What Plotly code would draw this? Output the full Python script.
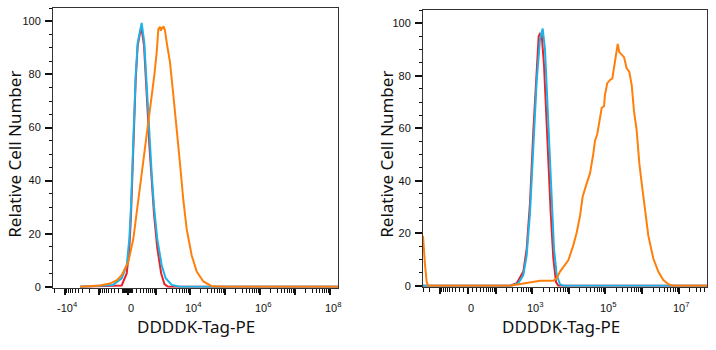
import numpy as np
import plotly.graph_objects as go

# ---------------- data (fluorescence intensity, relative cell number) ----------------
# Left panel
L_red_x = [-3600, -125, -17, 38, 74, 125, 181, 231, 330, 420, 490, 560, 630, 750, 880, 1100, 1450, 1800, 2300, 1.65e8]
L_red_y = [0, 0.5, 5, 14, 27, 52, 78, 91, 98, 91, 80, 66, 54, 41, 28, 15, 5, 1, 0, 0]

L_blue_x = [-3600, -353, -125, -17, 38, 74, 125, 181, 231, 344, 430, 493, 562, 634, 753, 886, 1113, 1500, 1960, 2920, 5000, 1.65e8]
L_blue_y = [0, 0.7, 3.2, 8.1, 18, 30.3, 55, 79.7, 92, 99.4, 92, 79.7, 67.3, 55, 42.7, 30.3, 18, 8.1, 3.2, 0.7, 0, 0]

L_orange_x = [-3633, -951, -455, -294, -239, -125, 17, 125, 206, 294, 455, 587, 753, 905, 1068, 1193, 1340, 1420,
              1500, 1584, 1700, 1871, 2100, 2610, 3250, 4070, 5055, 6280, 7850, 10910, 15170, 23450, 40750, 100000, 1.65e8]
L_orange_y = [0, 0.5, 1.2, 2, 2.5, 4.4, 9.4, 18, 27.9, 37.7, 51.4, 61.2, 72.3, 79.7, 88.3, 97, 98, 96.5,
              97.8, 97.2, 98.2, 96.5, 92, 84.6, 72.3, 60, 46.4, 32.8, 21.7, 11.8, 5.7, 2, 0.2, 0, 0]

# Right panel
R_red_x = [-302, 250, 381, 579, 714, 880, 1085, 1337, 1517, 1649, 1834, 2120, 2401, 2776, 3224, 3803, 4500, 5202, 5.85e7]
R_red_y = [0, 0, 1, 5.4, 14.1, 31.6, 59, 84, 95, 96, 95.5, 84, 65.3, 46.6, 27.8, 10.4, 1.4, 0, 0]

R_blue_x = [-302, 278, 422, 579, 714, 880, 1085, 1337, 1649, 1951, 2255, 2608, 2959, 3438, 3965, 4691, 5785, 7117, 5.85e7]
R_blue_y = [0, 0, 1, 4.1, 11.6, 27.8, 52.8, 77.8, 94, 98, 90, 71.5, 52.8, 31.6, 14.2, 4.1, 0.6, 0, 0]

R_orange_x = [-302, -290, -266, -239, -220, 250, 469, 880, 1649, 3803, 4691, 5785, 7911, 9734, 13313, 16492,
              20290, 24010, 30860, 37960, 46700, 51910, 60010, 71150, 79130, 91400, 97340, 112500, 133100,
              153900, 171100, 190600, 215800, 238900, 277600, 320800, 379600, 447000, 519100, 600100,
              711700, 838100, 973400, 1197500, 1473000, 2014000, 2756000, 3778000, 5168000, 7069000, 5.85e7]
R_orange_y = [19, 14, 8, 1.4, 0, 0, 0.6, 1.4, 1.9, 1.9, 2.9, 5.4, 7.9, 9.7, 15.4, 20.3,
              26.6, 34, 39, 42.8, 50.3, 55.3, 57.8, 64, 67.8, 68.4, 72.8, 77.2, 78.4,
              78.9, 82.8, 87.8, 92.1, 89, 87.8, 87.1, 82.8, 81.5, 76.5, 66.5,
              59, 46.6, 39, 29.1, 19.1, 10.4, 5.4, 2.2, 0.6, 0, 0]

# axis limits / labels (intensity units)
L_xlim = [-21500, 1.65e8]
R_xlim = [-302, 5.85e7]
L_tick_vals = [-1e4, 0, 1e4, 1e6, 1e8]
L_tick_text = ["-10<sup>4</sup>", "0", "10<sup>4</sup>", "10<sup>6</sup>", "10<sup>8</sup>"]
R_tick_vals = [0, 1e3, 1e5, 1e7]
R_tick_text = ["0", "10<sup>3</sup>", "10<sup>5</sup>", "10<sup>7</sup>"]
Y_ticks = [0, 20, 40, 60, 80, 100]
x_title = "DDDDK-Tag-PE"
y_title = "Relative Cell Number"

L_cof = 320.0   # biexponential (arcsinh) cofactors
R_cof = 36.0

for a, b in [(L_red_x, L_red_y), (L_blue_x, L_blue_y), (L_orange_x, L_orange_y),
             (R_red_x, R_red_y), (R_blue_x, R_blue_y), (R_orange_x, R_orange_y)]:
    assert len(a) == len(b)

RED = "#E8212B"
BLUE = "#1BB3E8"
ORANGE = "#FF7F0A"


def T(v, c):
    return np.arcsinh(np.asarray(v, dtype=float) / c) / np.log(10)


def tick_sets(lim, c, min_major_decade):
    lo, hi = lim
    major, minor = [0.0], []
    for d in range(1, 10):
        for s in (1, -1):
            for k in range(1, 10):
                v = float(s * k * 10 ** d)
                if lo < v < hi:
                    if k == 1 and d >= min_major_decade:
                        major.append(v)
                    else:
                        minor.append(v)
    major.sort()
    return T(major, c).tolist(), T(minor, c).tolist()


fig = go.Figure()
panels = [
    ("x", "y", L_cof, [(L_red_x, L_red_y, RED), (L_blue_x, L_blue_y, BLUE), (L_orange_x, L_orange_y, ORANGE)]),
    ("x2", "y2", R_cof, [(R_red_x, R_red_y, RED), (R_blue_x, R_blue_y, BLUE), (R_orange_x, R_orange_y, ORANGE)]),
]
for xa, ya, cof, series in panels:
    for xs, ys, col in series:
        fig.add_trace(go.Scatter(x=T(xs, cof), y=ys, mode="lines", xaxis=xa, yaxis=ya,
                                 line=dict(color=col, width=2), showlegend=False, hoverinfo="skip"))

tick_font = dict(family="Liberation Sans, Arial, sans-serif", size=11, color="#111")
title_font = dict(family="Noto Sans, sans-serif", size=17, color="#111")


def xaxis(lim, cof, min_dec, domain, anchor):
    maj, mnr = tick_sets(lim, cof, min_dec)
    return dict(
        domain=domain, anchor=anchor, range=T(lim, cof).tolist(), showgrid=False, zeroline=False,
        showline=True, linecolor="#333", linewidth=1, mirror=True, layer="below traces",
        tickmode="array", tickvals=maj, ticktext=[""] * len(maj), showticklabels=False,
        ticks="outside", ticklen=6, tickwidth=2, tickcolor="#111",
        minor=dict(tickmode="array", tickvals=mnr, ticks="outside", ticklen=4, tickwidth=1, tickcolor="#111"),
        fixedrange=True,
    )


def yaxis(domain, anchor):
    return dict(
        domain=domain, anchor=anchor, range=[-0.4, 105.1], showgrid=False, zeroline=False,
        showline=True, linecolor="#333", linewidth=1, mirror=True, layer="below traces",
        tickmode="array", tickvals=Y_ticks, ticks="outside", ticklen=7, tickwidth=2, tickcolor="#111",
        tickfont=tick_font, ticklabelstandoff=2,
        minor=dict(dtick=5, ticks="outside", ticklen=3, tickwidth=1, tickcolor="#111"),
        fixedrange=True,
    )


W, H = 716, 350
fig.update_layout(
    width=W, height=H, margin=dict(l=0, r=0, t=0, b=0),
    paper_bgcolor="white", plot_bgcolor="white",
    xaxis=xaxis(L_xlim, L_cof, 3, [53 / W, 338 / W], "y"),
    yaxis=yaxis([58 / H, 342 / H], "x"),
    xaxis2=xaxis(R_xlim, R_cof, 2, [423 / W, 707 / W], "y2"),
    yaxis2=yaxis([59 / H, 340 / H], "x2"),
)

# x tick labels (decade labels of the biexponential axis), placed on the data scale
for xref, cof, vals, texts in (("x", L_cof, L_tick_vals, L_tick_text), ("x2", R_cof, R_tick_vals, R_tick_text)):
    for v, t in zip(T(vals, cof), texts):
        fig.add_annotation(text=t, xref=xref, yref="paper", x=float(v), y=1 - 320 / H,
                           xanchor="center", yanchor="bottom", xshift=3, showarrow=False,
                           font=tick_font, borderpad=0)

# axis titles
for xc in (15, 387):
    fig.add_annotation(text=y_title, xref="paper", yref="paper", x=xc / W, y=1 - 157 / H,
                       xanchor="center", yanchor="middle", textangle=-90, showarrow=False,
                       font=title_font)
for xc in (195.5, 561):
    fig.add_annotation(text=x_title, xref="paper", yref="paper", x=xc / W, y=1 - 331 / H,
                       xanchor="center", yanchor="middle", showarrow=False, font=title_font)

fig.write_html("out.html", config=dict(displayModeBar=False, responsive=False))
